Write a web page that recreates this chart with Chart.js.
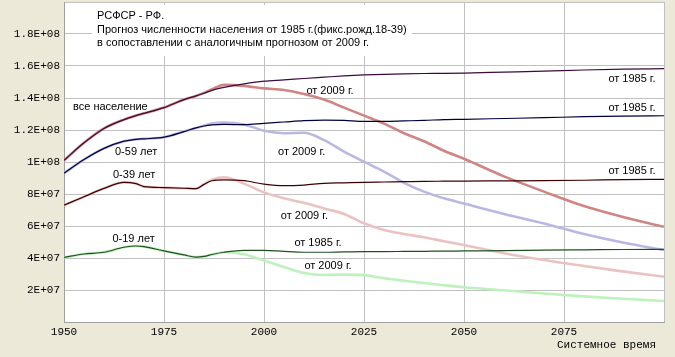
<!DOCTYPE html>
<html><head><meta charset="utf-8">
<script src="https://cdn.jsdelivr.net/npm/chart.js@4"></script>
<style>html,body{margin:0;padding:0;background:#ECE9D8}#w{width:675px;height:357px}</style>
</head><body><div id="w"><canvas id="c" width="675" height="357"></canvas></div>
<script>
const years = [1950,1955,1960,1965,1968,1970,1975,1980,1983,1985,1987,1990,1995,2000,2005,2010,2015,2020,2025,2030,2035,2040,2045,2050,2060,2070,2080,2090,2100];
// values in millions
const all1985 = [101,112,121,126.5,129,130.4,134,139,141.3,143,144.8,146.6,148.8,150.5,151.3,152.2,153,153.8,154.4,154.8,155.1,155.3,155.4,155.6,156.2,156.8,157.5,158,158.3];
const all2009 = [101,112,121,126.5,129,130.4,134,139,141.3,143.2,145.5,148.2,147.6,146,145,142.5,139,134,129,124,118,113,107,102,91,81.5,72.5,65.5,59.5];
const u59_1985 = [93,101.5,108.5,113,114.2,114.5,115.5,119,121.3,122.5,123.2,123.5,123.3,124.2,125,125.8,126.2,126,125.4,125.4,125.7,126,126.5,126.7,127.2,127.7,128.3,128.7,128.9];
const u59_2009 = [93,101.5,108.5,113,114.2,114.5,115.5,119,121.3,122.7,124,124.6,123.5,119.5,118,118.3,113.7,106.5,100.2,94,87,81.5,77.3,74,67.5,61.5,55,49.5,45];
const u39_1985 = [73,78.3,83.5,87.3,86.5,84.6,84,83.6,83.3,86,88.3,88.8,88.3,86.2,85.2,85.6,86.7,87,87.3,87.5,87.7,87.9,88,88.1,88.2,88.3,88.6,89,89.2];
const u39_2009 = [73,78.3,83.5,87.3,86.5,84.6,84,83.6,83.3,86.2,89,90.4,86.5,81,77.3,74.5,71,67.5,61.7,57.5,55,53,50.5,48.1,43,38.7,35,31.5,28.3];
const u19_1985 = [40.4,42.5,43.6,46.7,47.5,47.1,44.4,41.9,40.6,41,42.2,43.6,44.8,44.8,44.1,43.6,43.6,43.8,44,44,44.1,44.2,44.3,44.4,44.6,44.9,45.1,45.3,45.4];
const u19_2009 = [40.4,42.5,43.6,46.7,47.5,47.1,44.4,41.9,40.6,41,42.2,43.6,42.4,38.4,34.4,30.6,29.4,29.6,29.3,27.3,25.8,24.4,23,21.7,19.8,17.8,16,14.5,13.1];
const yTickLabels = ['', '2E+07','4E+07','6E+07','8E+07','1E+08','1.2E+08','1.4E+08','1.6E+08','1.8E+08',''];
const xTickLabels = ['1950','1975','2000','2025','2050','2075',''];
const titleLines = ['РСФСР - РФ.','Прогноз численности населения от 1985 г.(фикс.рожд.18-39)','в сопоставлении с аналогичным прогнозом от 2009 г.'];
const axisTitle = 'Системное время';
// annotations: [text, year, value(M), align]
const notes = [
  ['все население',1952.25,134.1,'left'],
  ['0-59 лет',1962.75,106.2,'left'],
  ['0-39 лет',1962.25,91.9,'left'],
  ['0-19 лет',1962.1,51.6,'left'],
  ['от 2009 г.',2010.6,144.7,'left'],
  ['от 2009 г.',2003.5,106.2,'left'],
  ['от 2009 г.',2004.2,66.5,'left'],
  ['от 1985 г.',2007.6,49.6,'left'],
  ['от 2009 г.',2010.1,35,'left'],
  ['от 1985 г.',2097.9,151.6,'right'],
  ['от 1985 г.',2097.9,133.6,'right'],
  ['от 1985 г.',2097.9,94.4,'right']
];
const toPts = arr => years.map((y,i)=>({x:y,y:arr[i]*1e6}));
function ds(arr,color,w,order){return {data:toPts(arr),borderColor:color,borderWidth:w,pointRadius:0,cubicInterpolationMode:'monotone',fill:false,order:order};}
const bgPlugin = {
  id:'bg',
  beforeDraw(chart){
    const {ctx,chartArea:a}=chart;
    ctx.save();ctx.fillStyle='#ECE9D8';ctx.fillRect(0,0,chart.width,chart.height);
    ctx.fillStyle='#FFFFFF';ctx.fillRect(a.left,a.top,a.right-a.left,a.bottom-a.top);ctx.restore();
  },
  beforeDatasetsDraw(chart){
    const ctx=chart.ctx;ctx.save();
    ctx.fillStyle='#FFFFFF';ctx.fillRect(92,5,320,51);
    ctx.fillStyle='#000';ctx.font='11px "Liberation Sans", Arial, sans-serif';ctx.textBaseline='middle';ctx.textAlign='left';
    titleLines.forEach((t,i)=>ctx.fillText(t,97,16+i*13.5));
    ctx.restore();
  },
  afterDatasetsDraw(chart){
    const ctx=chart.ctx,xs=chart.scales.x,ys=chart.scales.y;ctx.save();
    ctx.fillStyle='#000';ctx.font='11px "Liberation Sans", Arial, sans-serif';ctx.textBaseline='middle';
    notes.forEach(n=>{ctx.textAlign=n[3];ctx.fillText(n[0],xs.getPixelForValue(n[1]),ys.getPixelForValue(n[2]*1e6));});
    ctx.font='11px "Liberation Mono", "Courier New", monospace';ctx.textAlign='right';
    ctx.fillText(axisTitle,656,345);
    ctx.restore();
  }
};
function zeroPad(s){s.paddingTop=0;s.paddingBottom=0;s.paddingLeft=0;s.paddingRight=0;}
new Chart(document.getElementById('c'),{
  type:'line',
  data:{datasets:[
    ds(all1985,'#3C0A3C',1.2,1),
    ds(u59_1985,'#00003C',1.2,1),
    ds(u39_1985,'#3C0000',1.2,1),
    ds(u19_1985,'#1E501E',1.2,1),
    ds(all2009,'#D08484',2.6,2),
    ds(u59_2009,'#B8B8E2',2.6,2),
    ds(u39_2009,'#EBC2C2',2.6,2),
    ds(u19_2009,'#BDF2BD',2.6,2)
  ]},
  options:{
    responsive:false,animation:false,
    layout:{padding:{top:2,right:11,left:0,bottom:0}},
    plugins:{legend:{display:false},tooltip:{enabled:false},title:{display:false}},
    scales:{
      x:{type:'linear',min:1950,max:2100,
        afterFit(s){s.height=35;zeroPad(s);},
        afterBuildTicks(s){s.ticks=[1950,1975,2000,2025,2050,2075,2100].map(v=>({value:v}));},
        ticks:{autoSkip:false,maxRotation:0,padding:3,color:'#000',font:{family:'"Liberation Mono", monospace',size:11},callback:(v,i)=>xTickLabels[i]},
        grid:{color:'#C0C0C0',drawTicks:false,lineWidth:1},border:{color:'#A0A0A0'}},
      y:{min:0,max:2e8,
        afterFit(s){s.width=64;zeroPad(s);},
        afterBuildTicks(s){const t=[];for(let i=0;i<=10;i++)t.push({value:i*2e7});s.ticks=t;},
        ticks:{autoSkip:false,padding:4,color:'#000',font:{family:'"Liberation Mono", monospace',size:11},callback:(v,i)=>yTickLabels[i]},
        grid:{color:'#C0C0C0',drawTicks:false,lineWidth:1},border:{color:'#A0A0A0'}}
    }
  },
  plugins:[bgPlugin]
});
</script></body></html>
